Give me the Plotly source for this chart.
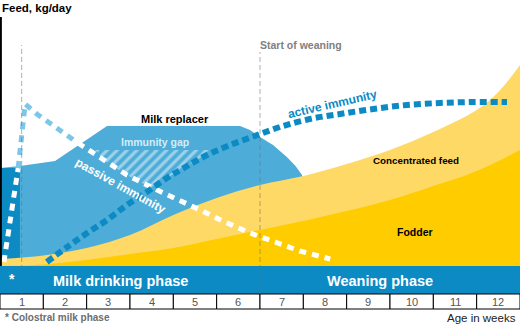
import plotly.graph_objects as go

# ---- data (x in weeks of age, y in kg/day, schematic scale) ----
weeks = list(range(1, 13))
week_labels = [str(w) for w in weeks]

# total height of the yellow stack (concentrated feed on top of fodder)
conc_x = [0, 1, 2, 3, 4, 5, 6, 7, 8, 9, 10, 11, 11.5, 12]
conc_y = [0.28, 0.42, 0.72, 1.24, 2.04, 2.72, 3.24, 3.60, 4.08, 4.64, 5.36, 6.24, 6.96, 8.04]

# fodder
fodder_x = [0, 1, 2, 3, 4, 5, 6, 7, 8, 9, 10, 11, 12]
fodder_y = [0.0, 0.06, 0.24, 0.48, 0.72, 1.08, 1.44, 1.80, 2.20, 2.64, 3.20, 3.80, 4.64]

# milk replacer outline
milk_x = [0, 0.46, 1.27, 2.47, 5.54, 5.77, 6.0, 6.3, 6.62, 6.82, 6.97, 6.97]
milk_y = [3.92, 4.0, 4.2, 5.6, 5.6, 5.44, 5.16, 4.84, 4.36, 4.0, 3.64, 0.0]

# colostral milk phase block
colostral_x = [0, 0.46]
colostral_y = 3.92

# passive immunity (maternal antibodies)
passive_x = [0.09, 0.23, 0.35, 0.42, 0.51, 0.58, 0.85, 1.15, 1.45, 1.80,
             2.38, 2.93, 3.53, 4.04, 4.62, 5.19, 5.77, 6.35, 6.92, 7.62]
passive_y = [0.16, 1.76, 3.04, 3.92, 5.64, 6.48, 6.08, 5.72, 5.36, 4.92,
             4.24, 3.64, 3.12, 2.72, 2.24, 1.76, 1.32, 0.96, 0.60, 0.28]

# active immunity (own antibodies)
active_x = [1.08, 1.55, 2.01, 2.47, 2.93, 3.39, 3.85, 4.32, 4.78, 5.31,
            5.88, 6.46, 7.15, 7.85, 8.61, 9.39, 10.15, 10.92, 11.7]
active_y = [0.16, 0.76, 1.32, 1.84, 2.44, 2.96, 3.52, 4.0, 4.44, 4.84,
            5.2, 5.56, 5.88, 6.08, 6.28, 6.44, 6.52, 6.56, 6.56]

# immunity gap between falling passive and rising active immunity
gap_x = [2.2, 4.9, 4.32, 3.85, 3.5, 2.93, 2.38, 2.2]
gap_y = [4.64, 4.64, 4.0, 3.52, 3.12, 3.64, 4.24, 4.64]

weaning_start = 6.0
colostral_line = 0.5

# ---- colours ----
DARK_BLUE = "#0B8AC4"
MILK_BLUE = "#4DADD8"
LIGHT_BLUE = "#7DC6E7"
LIGHT_YELLOW = "#FFD966"
YELLOW = "#FFCC00"
FONT = "Liberation Sans, Arial, sans-serif"

fig = go.Figure()

fig.add_trace(go.Scatter(x=milk_x + [0], y=milk_y + [0], fill="toself",
                         fillcolor=MILK_BLUE, mode="lines", line=dict(width=0)))
fig.add_trace(go.Scatter(x=[colostral_x[0], colostral_x[1], colostral_x[1], colostral_x[0]],
                         y=[0, 0, colostral_y, colostral_y], fill="toself",
                         fillcolor=DARK_BLUE, mode="lines", line=dict(width=0)))
fig.add_trace(go.Scatter(x=conc_x, y=conc_y, fill="tozeroy", fillcolor=LIGHT_YELLOW,
                         mode="lines", line=dict(width=0, shape="spline")))
fig.add_trace(go.Scatter(x=fodder_x, y=fodder_y, fill="tozeroy", fillcolor=YELLOW,
                         mode="lines", line=dict(width=0, shape="spline")))

# hatched immunity gap
fig.add_trace(go.Scatter(x=gap_x, y=gap_y, fill="toself", fillcolor="rgba(0,0,0,0)",
                         fillpattern=dict(shape="/", fgcolor="rgba(255,255,255,0.9)",
                                          bgcolor="rgba(0,0,0,0)", size=7, solidity=0.45),
                         mode="lines", line=dict(width=0)))

# passive immunity: white over coloured areas, light blue over white background
i_in, i_out = 3, 9
dots_p = "7px,6px"
fig.add_trace(go.Scatter(x=passive_x[:i_in + 1], y=passive_y[:i_in + 1], mode="lines",
                         line=dict(color="white", width=5, dash=dots_p)))
fig.add_trace(go.Scatter(x=passive_x[i_in:i_out + 1], y=passive_y[i_in:i_out + 1], mode="lines",
                         line=dict(color=LIGHT_BLUE, width=5, dash=dots_p)))
fig.add_trace(go.Scatter(x=passive_x[i_out:], y=passive_y[i_out:], mode="lines",
                         line=dict(color="white", width=5, dash=dots_p)))

fig.add_trace(go.Scatter(x=active_x, y=active_y, mode="lines",
                         line=dict(color=DARK_BLUE, width=6, dash="7px,4px", shape="spline")))

shapes = []
# phase band
shapes.append(dict(type="rect", xref="x", yref="y", x0=0, x1=12, y0=-1.12, y1=0,
                   fillcolor=DARK_BLUE, line=dict(width=0), layer="above"))
# week boxes
for w in weeks:
    shapes.append(dict(type="rect", xref="x", yref="y", x0=w - 1, x1=w, y0=-1.72, y1=-1.12,
                       fillcolor="white", line=dict(color="black", width=1), layer="above"))
# y axis line
shapes.append(dict(type="line", xref="x", yref="y", x0=0.02, x1=0.02, y0=0, y1=9.96,
                   line=dict(color="black", width=2), layer="above"))
# dashed markers
shapes.append(dict(type="line", xref="x", yref="y", x0=colostral_line, x1=colostral_line,
                   y0=-1.12, y1=8.84, line=dict(color="rgba(110,110,110,0.55)", width=1, dash="5px,3px"),
                   layer="above"))
shapes.append(dict(type="line", xref="x", yref="y", x0=weaning_start, x1=weaning_start,
                   y0=-1.12, y1=8.56, line=dict(color="rgba(110,110,110,0.55)", width=1, dash="5px,3px"),
                   layer="above"))


def label(text, x, y, size, color="black", bold=True, xanchor="center", angle=0):
    t = f"<b>{text}</b>" if bold else text
    return dict(text=t, x=x, y=y, xref="x", yref="y", showarrow=False, xanchor=xanchor,
                yanchor="middle", textangle=angle,
                font=dict(family=FONT, size=size, color=color))


annotations = [
    label("Feed, kg/day", 0.0, 10.32, 11.5, xanchor="left"),
    label("Start of weaning", weaning_start - 0.04, 8.84, 10.5, color="#808080", xanchor="left"),
    label("Milk replacer", 4.04, 5.88, 11),
    label("Immunity gap", 3.58, 4.96, 10.5, color="#D4ECF7"),
    label("passive immunity", 2.79, 3.2, 12, color="white", angle=29),
    label("active immunity", 7.68, 6.48, 12, color=DARK_BLUE, angle=-13),
    label("Concentrated feed", 9.6, 4.24, 9.8),
    label("Fodder", 9.58, 1.36, 10.5),
    label("*", 0.28, -0.52, 14, color="white"),
    label("Milk drinking phase", 2.77, -0.6, 14.5, color="white"),
    label("Weaning phase", 8.77, -0.6, 14.5, color="white"),
    label("* Colostral milk phase", 0.07, -2.04, 10, color="#6d6d6d", xanchor="left"),
    label("Age in weeks", 11.95, -2.08, 11.5, color="#222222", bold=False, xanchor="right"),
]
for w, lab in zip(weeks, week_labels):
    annotations.append(label(lab, w - 0.5, -1.42, 11, color="#555555", bold=False))

fig.update_layout(
    width=520, height=326, autosize=False,
    margin=dict(l=0, r=0, t=0, b=0),
    paper_bgcolor="white", plot_bgcolor="white",
    showlegend=False, hovermode=False,
    xaxis=dict(range=[0, 12], visible=False, fixedrange=True),
    yaxis=dict(range=[-2.4, 10.64], visible=False, fixedrange=True),
    shapes=shapes, annotations=annotations,
)

fig.write_html("out.html", config={"displayModeBar": False})
